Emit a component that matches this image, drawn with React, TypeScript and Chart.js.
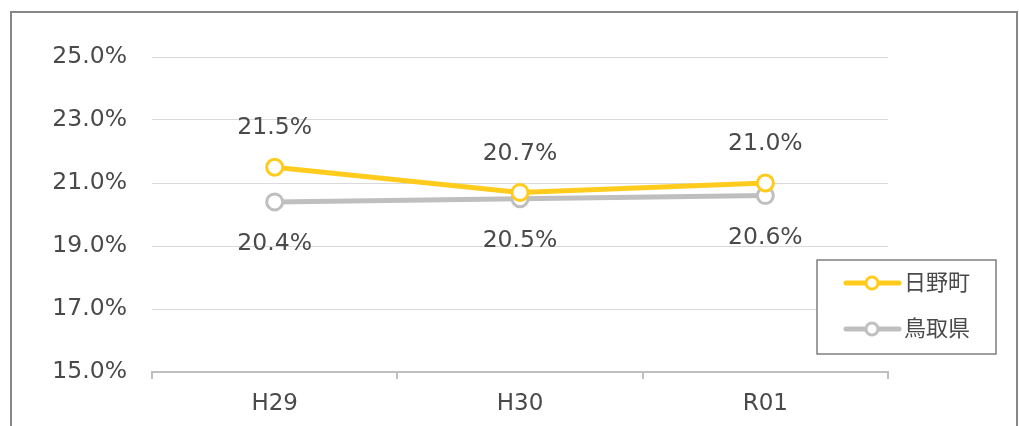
import React, { useEffect, useRef } from "react";
import { Chart, registerables } from "chart.js";

Chart.register(...registerables);

const categories = ["H29", "H30", "R01"];
const hinoValues = [21.5, 20.7, 21.0];
const tottoriValues = [20.4, 20.5, 20.6];
const seriesNames = ["日野町", "鳥取県"];
const yMin = 15;
const yMax = 25;
const yStep = 2;

const FONT = '"DejaVu Sans", "Noto Sans CJK JP", sans-serif';
const YELLOW = "#FFCC1E";
const GRAY = "#BFBFBF";
const TEXT = "#4a4a4a";

const frameBorder = {
  id: "frameBorder",
  beforeDraw(chart: any) {
    const ctx = chart.ctx;
    ctx.save();
    ctx.fillStyle = "#ffffff";
    ctx.fillRect(0, 0, chart.width, chart.height);
    ctx.strokeStyle = "#878787";
    ctx.lineWidth = 2;
    ctx.strokeRect(11, 12, 1006, 440);
    ctx.restore();
  },
};

const valueLabels = {
  id: "valueLabels",
  afterDatasetsDraw(chart: any) {
    const ctx = chart.ctx;
    ctx.save();
    ctx.font = `23.5px ${FONT}`;
    ctx.fillStyle = TEXT;
    ctx.textAlign = "center";
    ctx.textBaseline = "middle";
    chart.data.datasets.forEach((ds: any, di: number) => {
      const meta = chart.getDatasetMeta(di);
      meta.data.forEach((pt: any, i: number) => {
        const v = ds.data[i] as number;
        const dy = di === 0 ? -39 : 42;
        ctx.fillText(v.toFixed(1) + "%", pt.x, pt.y + dy);
      });
    });
    ctx.restore();
  },
};

const customLegend = {
  id: "customLegend",
  afterDraw(chart: any) {
    const ctx = chart.ctx;
    const bx = 817, by = 260, bw = 179, bh = 94;
    ctx.save();
    ctx.fillStyle = "#ffffff";
    ctx.fillRect(bx, by, bw, bh);
    ctx.strokeStyle = "#7f7f7f";
    ctx.lineWidth = 1.5;
    ctx.strokeRect(bx, by, bw, bh);
    chart.data.datasets.forEach((ds: any, i: number) => {
      const y = by + 23 + i * 46;
      ctx.strokeStyle = ds.borderColor;
      ctx.lineWidth = 5;
      ctx.lineCap = "round";
      ctx.beginPath();
      ctx.moveTo(846, y);
      ctx.lineTo(899, y);
      ctx.stroke();
      ctx.beginPath();
      ctx.fillStyle = "#ffffff";
      ctx.lineWidth = 3;
      ctx.arc(872, y, 6, 0, Math.PI * 2);
      ctx.fill();
      ctx.stroke();
      ctx.fillStyle = TEXT;
      ctx.font = `22px ${FONT}`;
      ctx.textAlign = "left";
      ctx.textBaseline = "middle";
      ctx.fillText(ds.label, 904, y + 1);
    });
    ctx.restore();
  },
};

export default function App() {
  const ref = useRef<HTMLCanvasElement>(null);
  useEffect(() => {
    document.body.style.margin = "0";
    const chart = new Chart(ref.current!, {
      type: "line",
      data: {
        labels: categories,
        datasets: [
          {
            label: seriesNames[0],
            data: hinoValues,
            borderColor: YELLOW,
            backgroundColor: "#ffffff",
            borderWidth: 5,
            pointRadius: 8,
            pointBorderWidth: 3,
            pointBackgroundColor: "#ffffff",
            pointBorderColor: YELLOW,
          },
          {
            label: seriesNames[1],
            data: tottoriValues,
            borderColor: GRAY,
            backgroundColor: "#ffffff",
            borderWidth: 5,
            pointRadius: 8,
            pointBorderWidth: 3,
            pointBackgroundColor: "#ffffff",
            pointBorderColor: GRAY,
          },
        ],
      },
      options: {
        responsive: false,
        animation: false,
        layout: { padding: { left: 0, right: 131, top: 57, bottom: 0 } },
        plugins: { legend: { display: false }, tooltip: { enabled: false } },
        scales: {
          x: {
            offset: true,
            grid: {
              offset: true,
              drawOnChartArea: false,
              drawTicks: true,
              tickLength: 7,
              color: GRAY,
              lineWidth: 2,
            },
            border: { display: true, color: GRAY, width: 2 },
            ticks: {
              color: TEXT,
              font: { family: FONT, size: 23 },
              padding: 11,
            },
            afterFit(scale: any) {
              scale.height = 54;
            },
          },
          y: {
            min: yMin,
            max: yMax,
            ticks: {
              stepSize: yStep,
              color: TEXT,
              font: { family: FONT, size: 23.5 },
              padding: 25,
              callback: (v: any) => Number(v).toFixed(1) + "%",
            },
            grid: { color: "#d9d9d9", lineWidth: 1, drawTicks: false },
            border: { display: false },
            afterFit(scale: any) {
              scale.width = 152;
            },
          },
        },
      },
      plugins: [frameBorder, valueLabels, customLegend],
    });
    return () => chart.destroy();
  }, []);
  return (
    <div style={{ position: "absolute", left: 0, top: 0 }}>
      <canvas ref={ref} width={1019} height={426} style={{ display: "block" }} />
    </div>
  );
}
